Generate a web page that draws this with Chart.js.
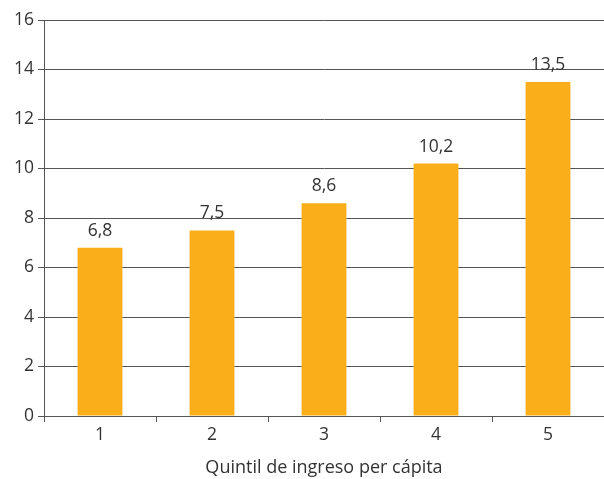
<!DOCTYPE html>
<html>
<head>
<meta charset="utf-8">
<script src="https://cdn.jsdelivr.net/npm/chart.js@4"></script>
<style>
  html, body { margin: 0; padding: 0; background: #fff; }
  #chart { display: block; }
</style>
</head>
<body>
<canvas id="chart" width="604" height="479"></canvas>
<script>
// datos del gráfico
const quintiles = ['1', '2', '3', '4', '5'];
const valores = [6.8, 7.5, 8.6, 10.2, 13.5];
const etiquetas = ['6,8', '7,5', '8,6', '10,2', '13,5'];
const yTicks = [0, 2, 4, 6, 8, 10, 12, 14, 16];

const FONT = "'Open Sans', 'Noto Sans', sans-serif";
const GRIS = '#555';
const TXT = '#333';

// etiquetas de valor encima de cada barra
const etiquetasBarras = {
    id: 'etiquetasBarras',
    afterDatasetsDraw(chart) {
        const { ctx } = chart;
        const meta = chart.getDatasetMeta(0);
        ctx.save();
        ctx.font = '17.5px ' + FONT;
        ctx.fillStyle = TXT;
        ctx.textAlign = 'center';
        ctx.textBaseline = 'alphabetic';
        meta.data.forEach((bar, i) => {
            ctx.fillText(etiquetas[i], bar.x, bar.y - 12);
        });
        ctx.restore();
    }
};

new Chart(document.getElementById('chart'), {
    type: 'bar',
    data: {
        labels: quintiles,
        datasets: [{
            data: valores,
            backgroundColor: '#F9AE1A',
            borderWidth: 0,
            categoryPercentage: 1,
            barPercentage: 0.4
        }]
    },
    options: {
        responsive: false,
        animation: false,
        layout: { padding: { top: 20, right: 0, left: 0, bottom: 0 } },
        plugins: {
            legend: { display: false },
            tooltip: { enabled: false }
        },
        scales: {
            x: {
                grid: { offset: true, drawOnChartArea: false, drawTicks: true, tickLength: 6, color: GRIS },
                border: { color: GRIS },
                ticks: { color: TXT, font: { family: FONT, size: 17.5 }, padding: 3 },
                title: { display: true, text: 'Quintil de ingreso per cápita', color: TXT, font: { family: FONT, size: 18 }, padding: { top: 7, bottom: 0 } },
                afterFit: s => { s.height = 63; }
            },
            y: {
                min: 0, max: 16,
                afterBuildTicks: s => { s.ticks = yTicks.map(v => ({ value: v })); },
                grid: { color: GRIS, tickLength: 6 },
                border: { color: GRIS },
                ticks: { color: TXT, font: { family: FONT, size: 17.5 }, padding: 4 },
                afterFit: s => { s.width = 44; }
            }
        }
    },
    plugins: [etiquetasBarras]
});
</script>
</body>
</html>
